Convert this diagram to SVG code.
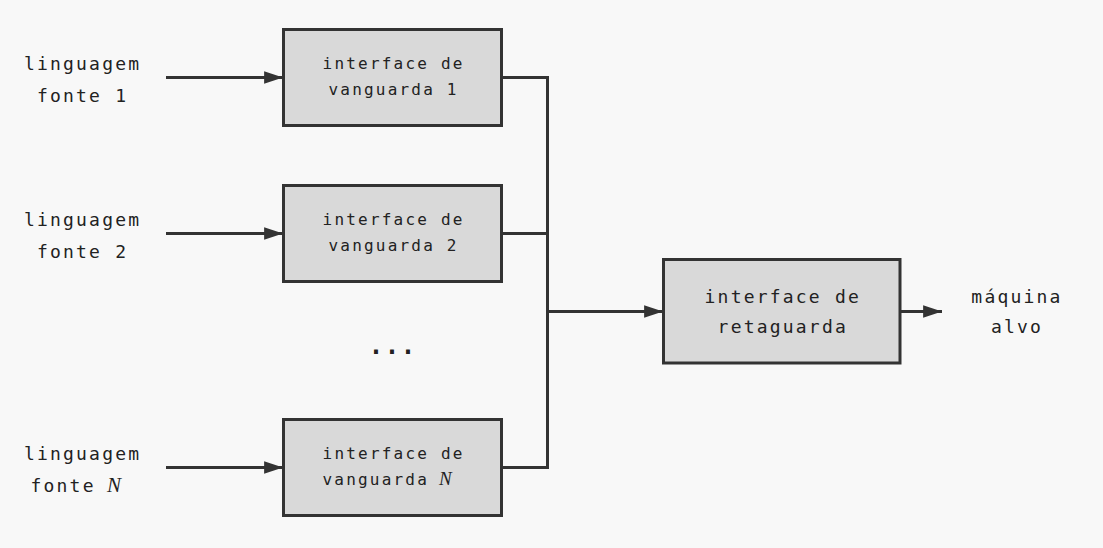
<svg xmlns="http://www.w3.org/2000/svg" width="1103" height="548" viewBox="0 0 1103 548">
<defs>
<style>
.bg{fill:#f8f8f8}
.box{fill:#d9d9d9;stroke:#333;stroke-width:3}
.lbl{font-family:"DejaVu Sans Mono","Liberation Mono",monospace;font-size:18px;letter-spacing:2.2px;fill:#222}
.sm{font-family:"DejaVu Sans Mono","Liberation Mono",monospace;font-size:16px;letter-spacing:2.2px;fill:#222}
.mid{text-anchor:middle}
.math{font-family:"Liberation Serif","DejaVu Serif",serif;font-style:italic;font-size:21px;letter-spacing:0}
.wire{fill:none;stroke:#333;stroke-width:3}
</style>
<marker id="ah" viewBox="0 0 10 10" refX="10" refY="5" markerWidth="6.3" markerHeight="4.2" markerUnits="strokeWidth" orient="auto" preserveAspectRatio="none">
<path d="M0,0 L10,5 L0,10 z" fill="#333"/>
</marker>
</defs>
<rect class="bg" x="0" y="0" width="1103" height="548"/>

<g id="src1">
<text class="lbl mid" x="82.6" y="70">linguagem</text>
<text class="lbl mid" x="82.6" y="102">fonte 1</text>
</g>
<g id="src2">
<text class="lbl mid" x="82.6" y="226">linguagem</text>
<text class="lbl mid" x="82.6" y="258">fonte 2</text>
</g>
<g id="srcN">
<text class="lbl mid" x="82.6" y="460">linguagem</text>
<text class="lbl" x="30.5" y="492">fonte <tspan class="math" x="107">N</tspan></text>
</g>

<g id="fe1">
<rect class="box" x="283.5" y="29.5" width="218" height="96"/>
<text class="sm mid" x="393.6" y="69">interface de</text>
<text class="sm mid" x="393.6" y="95">vanguarda 1</text>
</g>
<g id="fe2">
<rect class="box" x="283.5" y="185.5" width="218" height="96"/>
<text class="sm mid" x="393.6" y="225">interface de</text>
<text class="sm mid" x="393.6" y="251">vanguarda 2</text>
</g>
<g id="feN">
<rect class="box" x="283.5" y="419.5" width="218" height="96"/>
<text class="sm mid" x="393.6" y="459">interface de</text>
<text class="sm" x="322.5" y="485">vanguarda <tspan class="math" x="439" style="font-size:19px">N</tspan></text>
</g>

<g id="dots">
<text class="lbl" x="368.8" y="354" style="font-size:24px;font-weight:bold;letter-spacing:1.55px">...</text>
</g>

<g id="be">
<rect class="box" x="663.5" y="259.5" width="236.5" height="103.5"/>
<text class="lbl mid" x="782.8" y="303">interface de</text>
<text class="lbl mid" x="782.8" y="333">retaguarda</text>
</g>

<g id="target">
<text class="lbl mid" x="1017" y="303">máquina</text>
<text class="lbl mid" x="1017" y="333">alvo</text>
</g>

<g id="connectors">
<line class="wire" x1="166" y1="77.5" x2="283" y2="77.5" marker-end="url(#ah)"/>
<line class="wire" x1="166" y1="233.5" x2="283" y2="233.5" marker-end="url(#ah)"/>
<line class="wire" x1="166" y1="467.5" x2="283" y2="467.5" marker-end="url(#ah)"/>
<polyline class="wire" points="501.5,77.5 547.5,77.5 547.5,467.5 501.5,467.5"/>
<line class="wire" x1="501.5" y1="233.5" x2="547.5" y2="233.5"/>
<line class="wire" x1="547.5" y1="311.5" x2="663" y2="311.5" marker-end="url(#ah)"/>
<line class="wire" x1="900" y1="311.5" x2="942" y2="311.5" marker-end="url(#ah)"/>
</g>
</svg>
